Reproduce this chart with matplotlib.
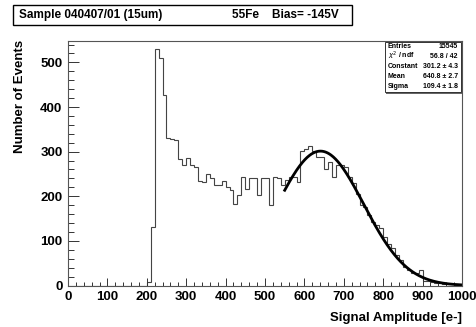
import numpy as np
import matplotlib
matplotlib.use("Agg")
import matplotlib.pyplot as plt
from matplotlib.patches import Rectangle

# ---- data ----
bin_width = 10
x_min, x_max = 0, 1000
first_nonzero_bin = 200
counts_from_200 = [8, 130, 531, 511, 428, 330, 328, 326, 283, 270,
                   285, 270, 265, 235, 232, 251, 240, 225, 225, 235,
                   220, 215, 182, 203, 244, 216, 240, 242, 203, 240,
                   242, 180, 244, 240, 225, 236, 244, 244, 232, 301,
                   307, 313, 301, 288, 288, 262, 277, 244, 270, 270,
                   266, 244, 229, 206, 180, 176, 158, 143, 135, 128,
                   109, 94, 83, 68, 57, 42, 35, 28, 28, 35,
                   10, 9, 7, 6, 5, 4, 3, 3, 2, 2]
fit_constant = 301.2
fit_mean = 640.8
fit_sigma = 109.4
fit_range = (550, 1000)
stats_labels = ["Entries", r"$\chi^2$ / ndf", "Constant", "Mean", "Sigma"]
stats_values = ["15545", "56.8 / 42", "301.2 ± 4.3", "640.8 ± 2.7", "109.4 ± 1.8"]
title_left = "Sample 040407/01 (15um)"
title_right = "55Fe    Bias= -145V"
x_label = "Signal Amplitude [e-]"
y_label = "Number of Events"

# ---- build ----
edges = np.arange(x_min, x_max + bin_width, bin_width)
counts = np.zeros(len(edges) - 1)
i0 = (first_nonzero_bin - x_min) // bin_width
counts[i0:i0 + len(counts_from_200)] = counts_from_200

W, H = 477, 327
fig = plt.figure(figsize=(W / 100, H / 100), dpi=100)
plt.rcParams['font.family'] = ['Liberation Sans', 'DejaVu Sans']
FONT = dict(family=['Liberation Sans', 'DejaVu Sans'], weight='bold')


def fx(x):
    return x / W


def fy(y):
    return 1 - y / H


ax_l, ax_r, ax_t, ax_b = 68, 462, 41, 285.5
ax = fig.add_axes([fx(ax_l), fy(ax_b), (ax_r - ax_l) / W, (ax_b - ax_t) / H])

ax.stairs(counts, edges, color='#444444', lw=0.8, baseline=0)
xf = np.linspace(fit_range[0], fit_range[1], 300)
yf = fit_constant * np.exp(-0.5 * ((xf - fit_mean) / fit_sigma) ** 2)
ax.plot(xf, yf, color='black', lw=2.0)

ax.set_xlim(x_min, x_max)
ax.set_ylim(0, 548)
ax.set_xticks(np.arange(0, 1001, 100))
ax.set_xticks(np.arange(0, 1001, 20), minor=True)
ax.set_yticks(np.arange(0, 501, 100))
ax.set_yticks(np.arange(0, 541, 20), minor=True)
ax.tick_params(which='both', direction='in', top=False, right=False, color='#333333', width=0.7)
ax.tick_params(axis='x', which='major', length=6, pad=4)
ax.tick_params(axis='x', which='minor', length=3)
ax.tick_params(axis='y', which='major', length=8, pad=4)
ax.tick_params(axis='y', which='minor', length=4)
for lbl in ax.get_xticklabels() + ax.get_yticklabels():
    lbl.set_fontfamily(['Liberation Sans', 'DejaVu Sans'])
    lbl.set_fontweight('bold')
    lbl.set_fontsize(9.5)
for sp in ax.spines.values():
    sp.set_linewidth(0.8)
    sp.set_color('#555555')

fig.text(fx(462), fy(318), x_label, ha='right', va='center', fontsize=9.5, **FONT)
fig.text(fx(20), fy(40), y_label, ha='center', va='top', rotation=90, fontsize=9.5, **FONT)

# title box
fig.add_artist(Rectangle((fx(13), fy(25)), (352 - 13) / W, 20 / H, transform=fig.transFigure,
                         facecolor='white', edgecolor='black', lw=1.0))
fig.text(fx(19), fy(15), title_left, ha='left', va='center', fontsize=8.5, **FONT)
fig.text(fx(232), fy(15), title_right, ha='left', va='center', fontsize=8.5, **FONT)

# stats box
bx0, bx1, by0, by1 = 385, 461, 42, 92
fig.add_artist(Rectangle((fx(bx0 + 1.5), fy(by1 + 1.5)), (bx1 - bx0) / W, (by1 - by0) / H,
                         transform=fig.transFigure, facecolor='#666666', edgecolor='none'))
fig.add_artist(Rectangle((fx(bx0), fy(by1)), (bx1 - bx0) / W, (by1 - by0) / H,
                         transform=fig.transFigure, facecolor='white', edgecolor='#333333', lw=0.7))
row_y = [46.5, 56, 66, 76, 86]
for yy, lab, val in zip(row_y, stats_labels, stats_values):
    fig.text(fx(388), fy(yy), lab, ha='left', va='center', fontsize=5.0, **FONT)
    fig.text(fx(458), fy(yy), val, ha='right', va='center', fontsize=5.0, **FONT)

fig.savefig("out.png", dpi=100)
